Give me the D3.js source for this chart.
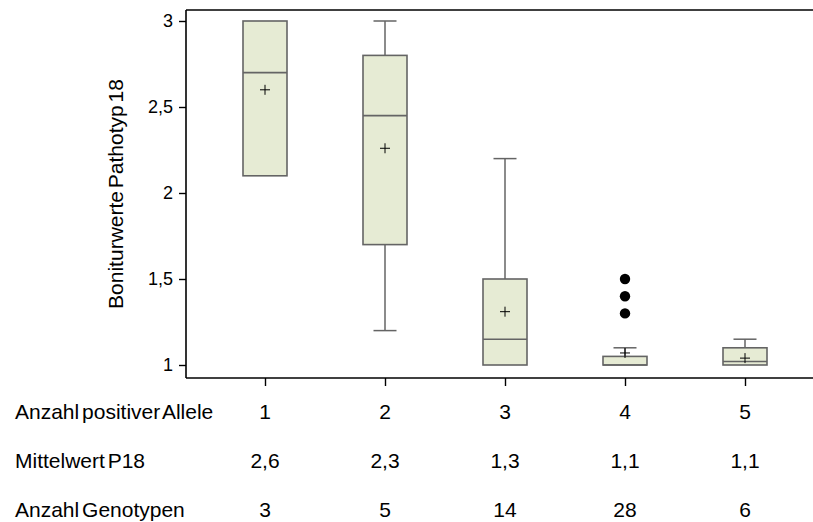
<!DOCTYPE html>
<html>
<head>
<meta charset="utf-8">
<script src="https://cdn.jsdelivr.net/npm/d3@7"></script>
<style>
  body { margin: 0; background: #fff; }
  svg { display: block; font-family: "Liberation Sans", Arial, sans-serif; }
</style>
</head>
<body>
<svg width="813" height="522"></svg>
<script>
// data
var categories = ["1", "2", "3", "4", "5"];
var whiskerLow  = [2.1, 1.2, 1.0, 1.0, 1.0];
var q1          = [2.1, 1.7, 1.0, 1.0, 1.0];
var median      = [2.7, 2.45, 1.15, 1.0, 1.02];
var q3          = [3.0, 2.8, 1.5, 1.05, 1.1];
var whiskerHigh = [3.0, 3.0, 2.2, 1.1, 1.15];
var means       = [2.6, 2.26, 1.31, 1.07, 1.04];
var outliers    = [[], [], [], [1.5, 1.4, 1.3], []];
var meanLabels  = ["2,6", "2,3", "1,3", "1,1", "1,1"];
var genotypes   = ["3", "5", "14", "28", "6"];
var yTicks      = [1, 1.5, 2, 2.5, 3];
var rowLabels   = ["Anzahl positiver Allele", "Mittelwert P18", "Anzahl Genotypen"];

var svg = d3.select("svg"),
    width = +svg.attr("width"),
    height = +svg.attr("height");

var plotLeft = 186, plotTop = 10, plotBottom = 378;

var y = d3.scaleLinear().domain([1, 3]).range([365, 21]);
var x = d3.scalePoint().domain(categories).range([265, 745]);

var boxW = 44, capW = 23;
var boxStroke = "#646464", boxFill = "#e6ebd4";

var fmt = function(d){ return String(d).replace(".", ","); };

// frame
svg.append("line").attr("x1", plotLeft).attr("x2", width).attr("y1", plotTop).attr("y2", plotTop)
    .attr("stroke", "#000").attr("stroke-width", 1.6);
svg.append("line").attr("x1", plotLeft).attr("x2", width).attr("y1", plotBottom).attr("y2", plotBottom)
    .attr("stroke", "#000").attr("stroke-width", 1.6);

// y axis
var yAxis = svg.append("g")
    .attr("transform", "translate(" + plotLeft + ",0)")
    .call(d3.axisLeft(y).tickValues(yTicks).tickFormat(fmt).tickSize(7).tickPadding(6));
yAxis.select(".domain").attr("d", "M0," + plotTop + "V" + plotBottom).attr("stroke-width", 1.6);
yAxis.selectAll(".tick line").attr("stroke-width", 1.4);
yAxis.selectAll("text").attr("font-size", 18).attr("fill", "#000")
    .attr("font-family", "Liberation Sans, Arial, sans-serif");

// x ticks
var xAxis = svg.append("g")
    .attr("transform", "translate(0," + plotBottom + ")")
    .call(d3.axisBottom(x).tickSize(8).tickFormat(""));
xAxis.select(".domain").remove();
xAxis.selectAll(".tick line").attr("stroke-width", 1.4);

// y title
svg.append("text")
    .attr("transform", "translate(123," + ((plotTop + plotBottom) / 2) + ") rotate(-90)")
    .attr("text-anchor", "middle")
    .attr("font-size", 21)
    .attr("word-spacing", -3)
    .text("Boniturwerte Pathotyp 18");

// boxes
var g = svg.append("g").selectAll("g")
    .data(categories)
    .enter().append("g");

g.each(function(c, i){
    var el = d3.select(this), cx = x(c);
    if (whiskerHigh[i] > q3[i]) {
        el.append("line").attr("x1", cx).attr("x2", cx)
            .attr("y1", y(q3[i])).attr("y2", y(whiskerHigh[i]))
            .attr("stroke", boxStroke).attr("stroke-width", 1.5);
        el.append("line").attr("x1", cx - capW / 2).attr("x2", cx + capW / 2)
            .attr("y1", y(whiskerHigh[i])).attr("y2", y(whiskerHigh[i]))
            .attr("stroke", boxStroke).attr("stroke-width", 1.5);
    }
    if (whiskerLow[i] < q1[i]) {
        el.append("line").attr("x1", cx).attr("x2", cx)
            .attr("y1", y(q1[i])).attr("y2", y(whiskerLow[i]))
            .attr("stroke", boxStroke).attr("stroke-width", 1.5);
        el.append("line").attr("x1", cx - capW / 2).attr("x2", cx + capW / 2)
            .attr("y1", y(whiskerLow[i])).attr("y2", y(whiskerLow[i]))
            .attr("stroke", boxStroke).attr("stroke-width", 1.5);
    }
    el.append("rect")
        .attr("x", cx - boxW / 2).attr("width", boxW)
        .attr("y", y(q3[i])).attr("height", y(q1[i]) - y(q3[i]))
        .attr("fill", boxFill).attr("stroke", boxStroke).attr("stroke-width", 1.6);
    el.append("line").attr("x1", cx - boxW / 2).attr("x2", cx + boxW / 2)
        .attr("y1", y(median[i])).attr("y2", y(median[i]))
        .attr("stroke", boxStroke).attr("stroke-width", 1.6);
    // mean marker
    var my = y(means[i]);
    el.append("path")
        .attr("d", "M" + (cx - 5) + "," + my + "H" + (cx + 5) + "M" + cx + "," + (my - 5) + "V" + (my + 5))
        .attr("stroke", "#000").attr("stroke-width", 1);
    el.selectAll("circle").data(outliers[i]).enter().append("circle")
        .attr("cx", cx).attr("cy", function(d){ return y(d); })
        .attr("r", 5.2).attr("fill", "#000");
});

// table below the axis
var rows = [categories, meanLabels, genotypes];
var baselines = [419, 468, 517];
rows.forEach(function(vals, r){
    svg.append("text").attr("x", 15).attr("y", baselines[r])
        .attr("font-size", 21).attr("word-spacing", -3)
        .text(rowLabels[r]);
    svg.append("g").selectAll("text").data(vals).enter().append("text")
        .attr("x", function(d, i){ return x(categories[i]); })
        .attr("y", baselines[r])
        .attr("text-anchor", "middle")
        .attr("font-size", 21)
        .text(function(d){ return d; });
});
</script>
</body>
</html>
